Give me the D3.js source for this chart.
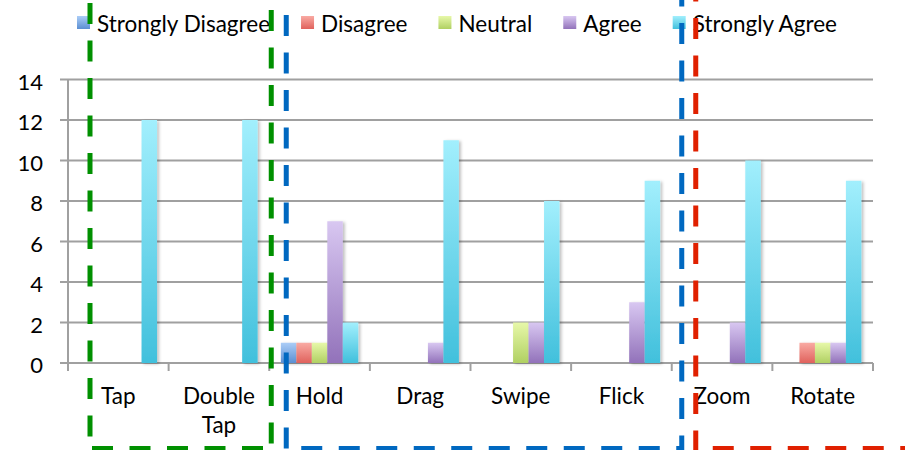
<!DOCTYPE html>
<html>
<head>
<meta charset="utf-8">
<script src="https://cdn.jsdelivr.net/npm/d3@7"></script>
<style>
  html, body { margin: 0; padding: 0; background: #fff; }
  svg { display: block; }
  text { font-family: Lato, "Open Sans", sans-serif; fill: #000; }
</style>
</head>
<body>
<svg id="chart" width="905" height="450"></svg>
<script>
// Gesture ratings: number of respondents per answer
const categories = ["Tap", "Double Tap", "Hold", "Drag", "Swipe", "Flick", "Zoom", "Rotate"];
const series = ["Strongly Disagree", "Disagree", "Neutral", "Agree", "Strongly Agree"];
const stronglyDisagree = [0, 0, 1, 0, 0, 0, 0, 0];
const disagree         = [0, 0, 1, 0, 0, 0, 0, 1];
const neutral          = [0, 0, 1, 0, 2, 0, 0, 1];
const agree            = [0, 0, 7, 1, 2, 3, 2, 1];
const stronglyAgree    = [12, 12, 2, 11, 8, 9, 10, 9];
const yTicks = [0, 2, 4, 6, 8, 10, 12, 14];

// Gesture groupings outlined with dashed boxes
const groups = [
  { first: "Tap",  last: "Double Tap", color: "#009000", left: 22, right: 2,  phaseL: 3,  phaseR: 10, phaseB: 2 },
  { first: "Hold", last: "Flick",      color: "#0068c0", left: 17, right: 10, phaseL: 15, phaseR: 23, phaseB: 15 },
  { first: "Zoom", last: null,         color: "#e02000", left: 24, right: null, phaseL: 18, phaseR: null, phaseB: 17 }
];

const valuesBySeries = [stronglyDisagree, disagree, neutral, agree, stronglyAgree];
const gradients = [
  ["#abcdf7", "#5b8fd2"],
  ["#f9aaa3", "#e0625c"],
  ["#e7f8a9", "#b0d062"],
  ["#d8c7f1", "#9272ba"],
  ["#a2effd", "#41c0dc"]
];

const svg = d3.select("#chart");
const plot = { left: 68, right: 873, top: 79.5, bottom: 363 };

const x = d3.scaleBand().domain(categories).range([plot.left, plot.right]).paddingInner(0).paddingOuter(0);
const xs = d3.scaleBand().domain(series).range([0, x.bandwidth()]).paddingInner(0).paddingOuter(0.75);
const y = d3.scaleLinear().domain([0, 14]).range([plot.bottom, plot.top]);

const defs = svg.append("defs");
gradients.forEach((g, i) => {
  const lg = defs.append("linearGradient").attr("id", "grad" + i)
    .attr("x1", 0).attr("y1", 0).attr("x2", 0).attr("y2", 1);
  lg.append("stop").attr("offset", "0%").attr("stop-color", g[0]);
  lg.append("stop").attr("offset", "100%").attr("stop-color", g[1]);
});
const shadow = defs.append("filter").attr("id", "shadow")
  .attr("x", "-30%").attr("y", "-10%").attr("width", "160%").attr("height", "120%");
shadow.append("feDropShadow").attr("dx", 2).attr("dy", 1).attr("stdDeviation", 1.6)
  .attr("flood-color", "#000").attr("flood-opacity", 0.25);

// Horizontal gridlines with left tick stubs
const grid = svg.append("g");
grid.selectAll("line").data(yTicks).join("line")
  .attr("x1", plot.left - 8).attr("x2", plot.right)
  .attr("y1", d => y(d)).attr("y2", d => y(d))
  .attr("stroke", "#a0a0a0").attr("stroke-width", 2);

// Y axis line
svg.append("line")
  .attr("x1", plot.left).attr("x2", plot.left)
  .attr("y1", y(14)).attr("y2", y(0))
  .attr("stroke", "#a0a0a0").attr("stroke-width", 2);

// Y tick labels
svg.append("g").selectAll("text").data(yTicks).join("text")
  .attr("x", 43).attr("y", d => y(d) + 10)
  .attr("text-anchor", "end")
  .attr("font-size", 22)
  .text(d => d);

// Category ticks below the x axis
const boundaries = categories.map(c => x(c)).concat([plot.right]);
svg.append("g").selectAll("line").data(boundaries).join("line")
  .attr("x1", d => d).attr("x2", d => d)
  .attr("y1", y(0)).attr("y2", y(0) + 8)
  .attr("stroke", "#a0a0a0").attr("stroke-width", 2);

// Bars
const barData = [];
categories.forEach((c, ci) => {
  series.forEach((s, si) => {
    const v = valuesBySeries[si][ci];
    if (v > 0) barData.push({ c, s, si, v });
  });
});
svg.append("g").selectAll("rect").data(barData).join("rect")
  .attr("x", d => x(d.c) + xs(d.s))
  .attr("width", xs.bandwidth())
  .attr("y", d => y(d.v))
  .attr("height", d => y(0) - y(d.v))
  .attr("fill", d => `url(#grad${d.si})`)
  .attr("filter", "url(#shadow)");

// Category labels (wrapped onto two lines where needed)
const catLabels = svg.append("g").selectAll("text").data(categories).join("text")
  .attr("x", d => x(d) + x.bandwidth() / 2)
  .attr("y", 404)
  .attr("text-anchor", "middle")
  .attr("font-size", 22.5);
catLabels.each(function(d) {
  const words = d.split(" ");
  const t = d3.select(this);
  words.forEach((w, i) => {
    t.append("tspan").attr("x", x(d) + x.bandwidth() / 2).attr("dy", i === 0 ? 0 : 29).text(w);
  });
});

// Legend
const legend = svg.append("g");
let lx = 77;
series.forEach((s, i) => {
  legend.append("rect").attr("x", lx).attr("y", 16).attr("width", 13).attr("height", 13)
    .attr("fill", `url(#grad${i})`);
  const t = legend.append("text").attr("x", lx + 20).attr("y", 32).attr("font-size", 22.5).text(s);
  lx += 20 + t.node().getComputedTextLength() + 31;
});

// Dashed group outlines
const dash = "21 16.5";
const period = 37.5;
const bottomY = 448.5;
const overlay = svg.append("g").attr("fill", "none").attr("stroke-width", 5).attr("stroke-dasharray", dash);
groups.forEach(g => {
  const xl = x(g.first) + g.left;
  const xr = g.last ? x(g.last) + x.bandwidth() + g.right : 910;
  overlay.append("line").attr("stroke", g.color)
    .attr("x1", xl).attr("x2", xl).attr("y1", 0).attr("y2", 452)
    .attr("stroke-dashoffset", period - g.phaseL);
  if (g.last) {
    overlay.append("line").attr("stroke", g.color)
      .attr("x1", xr).attr("x2", xr).attr("y1", 0).attr("y2", 452)
      .attr("stroke-dashoffset", period - g.phaseR);
  }
  overlay.append("line").attr("stroke", g.color)
    .attr("x1", xl).attr("x2", xr).attr("y1", bottomY).attr("y2", bottomY)
    .attr("stroke-dashoffset", period - g.phaseB);
});
</script>
</body>
</html>
